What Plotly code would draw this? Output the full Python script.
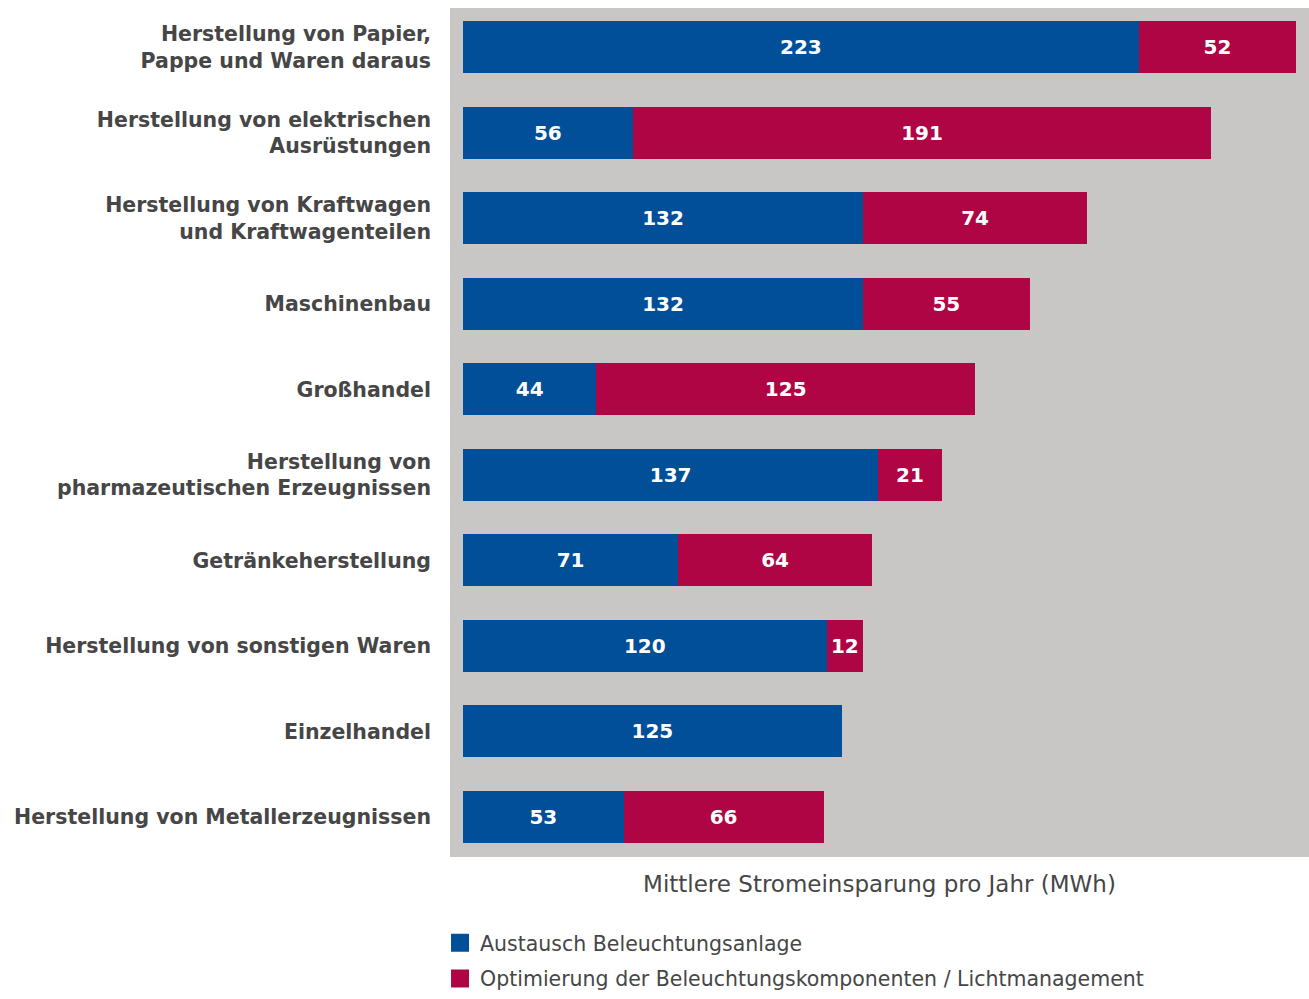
import plotly.graph_objects as go

categories = [
    "Herstellung von Papier,<br>Pappe und Waren daraus",
    "Herstellung von elektrischen<br>Ausrüstungen",
    "Herstellung von Kraftwagen<br>und Kraftwagenteilen",
    "Maschinenbau",
    "Großhandel",
    "Herstellung von<br>pharmazeutischen Erzeugnissen",
    "Getränkeherstellung",
    "Herstellung von sonstigen Waren",
    "Einzelhandel",
    "Herstellung von Metallerzeugnissen",
]
austausch = [223, 56, 132, 132, 44, 137, 71, 120, 125, 53]
optimierung = [52, 191, 74, 55, 125, 21, 64, 12, 0, 66]

series_names = ["Austausch Beleuchtungsanlage",
                "Optimierung der Beleuchtungskomponenten / Lichtmanagement"]
axis_title = "Mittlere Stromeinsparung pro Jahr (MWh)"

BLUE = "#004F98"
RED = "#AF0545"
GRAY = "#C9C7C6"
TEXT = "#464646"
FONT = "DejaVu Sans"

def labels(vals):
    return [str(v) if v else "" for v in vals]

fig = go.Figure()
for vals, name, color in [(austausch, series_names[0], BLUE),
                          (optimierung, series_names[1], RED)]:
    fig.add_trace(go.Bar(
        y=categories, x=vals, orientation="h", name=name,
        marker=dict(color=color, line=dict(width=0)),
        text=labels(vals), textposition="inside", insidetextanchor="middle",
        textfont=dict(color="white", size=20, family=FONT, weight="bold"),
        constraintext="none", width=0.61, showlegend=False,
    ))

# legend entries (larger square swatches)
for i, (name, color) in enumerate([(series_names[0], BLUE), (series_names[1], RED)]):
    fig.add_trace(go.Scatter(
        x=[None], y=[None], mode="markers", name=name,
        marker=dict(symbol="square", size=16, color=color,
                    line=dict(width=2, color=color)),
        legendgroup=f"g{i}", showlegend=True, hoverinfo="skip",
    ))

fig.update_layout(
    barmode="stack",
    width=1309, height=999,
    margin=dict(l=450, r=0, t=8, b=142),
    paper_bgcolor="white",
    plot_bgcolor=GRAY,
    font=dict(family=FONT, color=TEXT, size=20),
    showlegend=True,
    legend=dict(
        orientation="v", x=-0.0116, xanchor="left", y=-0.078, yanchor="top",
        font=dict(size=20.5, color=TEXT, family=FONT),
        itemwidth=30, itemsizing="trace", tracegroupgap=6, traceorder="grouped",
        bgcolor="rgba(0,0,0,0)",
    ),
    xaxis=dict(
        range=[-4.3, 279.2], showgrid=False, zeroline=False,
        showticklabels=False, ticks="",
        title=dict(text=axis_title, font=dict(size=23, color=TEXT, family=FONT), standoff=18),
    ),
    yaxis=dict(
        categoryorder="array", categoryarray=categories,
        range=[9.47, -0.46], showgrid=False, zeroline=False, ticks="",
        tickfont=dict(size=20.5, color=TEXT, family=FONT, weight="bold"),
        ticklabelstandoff=18,
    ),
)

fig.write_html("out.html")
